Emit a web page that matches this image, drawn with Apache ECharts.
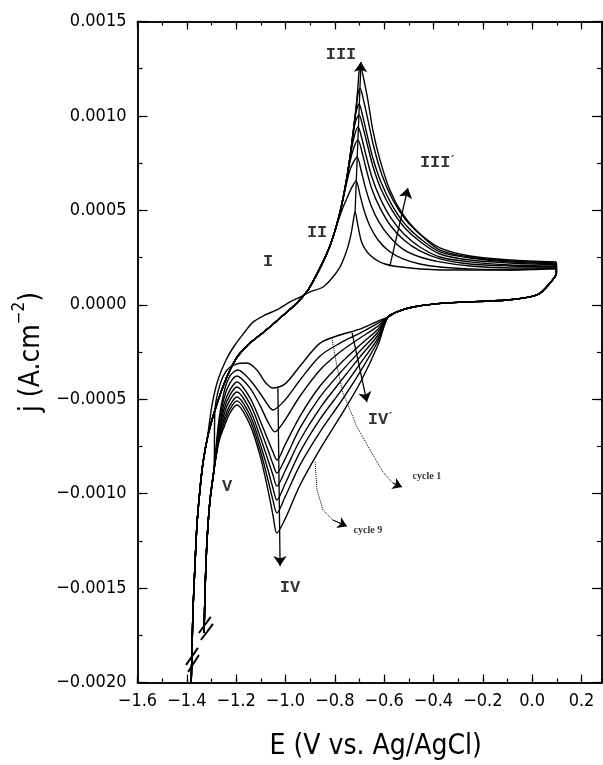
<!DOCTYPE html>
<html>
<head>
<meta charset="utf-8">
<script src="https://cdn.jsdelivr.net/npm/echarts@6/dist/echarts.min.js"></script>
<style>
  html, body { margin: 0; padding: 0; background: #fff; }
  #chart { width: 603px; height: 765px; }
</style>
</head>
<body>
<div id="chart"></div>
<script>
// E in V vs Ag/AgCl, j in A/cm2 ; 9 successive cycles
const xMin = -1.6, xMax = 0.283;
const yMin = -0.002, yMax = 0.0015;

// reversal at the positive end + start of the cathodic scan (same for every cycle)
const turn = [[0.098, 1.68e-4], [0.072, 1.15e-4], [0.020, 0.52e-4], [-0.102, 0.25e-4],
  [-0.345, 0.10e-4], [-0.483, -0.12e-4], [-0.548, -0.38e-4], [-0.585, -0.65e-4]];

// cathodic scan: shoulder IV', peak IV, hump before V
const cath1 = [[-0.625,-0.86e-4],[-0.698,-1.29e-4],[-0.779,-1.60e-4],[-0.860,-2.03e-4],[-0.941,-3.24e-4],[-1.002,-4.19e-4],[-1.051,-4.41e-4],[-1.083,-4.09e-4],[-1.116,-3.45e-4],[-1.156,-3.08e-4],[-1.197,-3.13e-4],[-1.237,-3.45e-4],[-1.266,-4.24e-4],[-1.286,-5.57e-4]];
const cath2 = [[-0.625,-0.97e-4],[-0.698,-1.50e-4],[-0.779,-2.03e-4],[-0.860,-2.71e-4],[-0.941,-3.98e-4],[-1.002,-5.04e-4],[-1.051,-5.57e-4],[-1.071,-5.31e-4],[-1.104,-4.67e-4],[-1.144,-3.98e-4],[-1.193,-3.45e-4],[-1.225,-3.77e-4],[-1.249,-4.62e-4],[-1.270,-6.10e-4]];
const cath3 = [[-0.625,-1.13e-4],[-0.698,-1.76e-4],[-0.779,-2.50e-4],[-0.860,-3.45e-4],[-0.941,-4.83e-4],[-1.002,-6.10e-4],[-1.043,-6.73e-4],[-1.071,-6.21e-4],[-1.104,-5.31e-4],[-1.144,-4.41e-4],[-1.197,-3.77e-4],[-1.225,-4.14e-4],[-1.249,-4.93e-4],[-1.270,-6.36e-4]];
const cath4 = [[-0.625,-1.29e-4],[-0.698,-2.13e-4],[-0.779,-3.13e-4],[-0.860,-4.30e-4],[-0.941,-5.89e-4],[-1.002,-7.42e-4],[-1.035,-8.22e-4],[-1.051,-7.79e-4],[-1.071,-7.16e-4],[-1.104,-6.10e-4],[-1.144,-4.93e-4],[-1.197,-4.09e-4],[-1.225,-4.51e-4],[-1.249,-5.25e-4],[-1.270,-6.63e-4]];
const cath5 = [[-0.625,-1.44e-4],[-0.698,-2.45e-4],[-0.779,-3.61e-4],[-0.860,-4.88e-4],[-0.941,-6.52e-4],[-1.002,-8.17e-4],[-1.035,-8.91e-4],[-1.051,-8.43e-4],[-1.071,-7.69e-4],[-1.104,-6.52e-4],[-1.144,-5.25e-4],[-1.197,-4.35e-4],[-1.225,-4.77e-4],[-1.249,-5.52e-4],[-1.270,-6.79e-4]];
const cath6 = [[-0.625,-1.60e-4],[-0.698,-2.76e-4],[-0.779,-4.09e-4],[-0.860,-5.47e-4],[-0.941,-7.16e-4],[-1.002,-8.80e-4],[-1.035,-9.60e-4],[-1.051,-9.01e-4],[-1.071,-8.22e-4],[-1.104,-6.95e-4],[-1.144,-5.57e-4],[-1.197,-4.62e-4],[-1.225,-5.04e-4],[-1.249,-5.78e-4],[-1.270,-6.95e-4]];
const cath7 = [[-0.625,-1.76e-4],[-0.698,-3.13e-4],[-0.779,-4.62e-4],[-0.860,-6.05e-4],[-0.941,-7.79e-4],[-1.002,-9.49e-4],[-1.035,-10.34e-4],[-1.051,-9.70e-4],[-1.071,-8.75e-4],[-1.104,-7.32e-4],[-1.144,-5.84e-4],[-1.197,-4.88e-4],[-1.225,-5.31e-4],[-1.249,-6.05e-4],[-1.270,-7.05e-4]];
const cath8 = [[-0.625,-1.92e-4],[-0.698,-3.56e-4],[-0.779,-5.20e-4],[-0.860,-6.73e-4],[-0.941,-8.48e-4],[-1.002,-10.18e-4],[-1.035,-11.03e-4],[-1.051,-10.34e-4],[-1.071,-9.28e-4],[-1.104,-7.64e-4],[-1.144,-6.10e-4],[-1.197,-5.09e-4],[-1.225,-5.52e-4],[-1.249,-6.26e-4],[-1.270,-7.16e-4]];
const cath9 = [[-0.625,-2.13e-4],[-0.698,-4.14e-4],[-0.779,-5.94e-4],[-0.860,-7.64e-4],[-0.941,-9.54e-4],[-1.002,-11.35e-4],[-1.035,-12.09e-4],[-1.051,-11.13e-4],[-1.071,-9.81e-4],[-1.104,-7.95e-4],[-1.144,-6.36e-4],[-1.197,-5.31e-4],[-1.225,-5.73e-4],[-1.249,-6.47e-4],[-1.270,-7.26e-4]];

// steep fall towards -1.4 V (curve is broken below this)
const descend = [[-1.290,-8.75e-4],[-1.306,-10.34e-4],[-1.318,-12.45e-4],[-1.326,-15.10e-4],[-1.330,-17.38e-4]];

// anodic scan back from -1.4 V
const riseLow = [[-1.383,-20.40e-4],[-1.379,-18.28e-4],[-1.375,-16.16e-4],[-1.367,-13.78e-4],[-1.359,-11.66e-4],[-1.347,-9.81e-4],[-1.334,-8.32e-4]];
const riseBundle = [[-1.314,-6.89e-4],[-1.286,-5.57e-4],[-1.254,-4.35e-4],[-1.225,-3.45e-4],[-1.193,-2.71e-4],[-1.144,-2.03e-4],[-1.083,-1.39e-4],[-1.022,-0.70e-4],[-0.954,0.10e-4],[-0.909,0.78e-4],[-0.877,1.52e-4],[-0.848,2.27e-4],[-0.820,3.11e-4]];
// cycle 1 rises on its own (shoulder I)
const rise1 = [[-1.318,-7.16e-4],[-1.298,-5.31e-4],[-1.274,-3.98e-4],[-1.241,-2.92e-4],[-1.205,-2.13e-4],[-1.165,-1.44e-4],[-1.132,-0.92e-4],[-1.083,-0.54e-4],[-1.035,-0.27e-4],[-0.982,0.15e-4],[-0.941,0.41e-4],[-0.901,0.68e-4],[-0.848,0.94e-4],[-0.808,1.47e-4],[-0.779,2.00e-4],[-0.751,2.90e-4],[-0.735,3.70e-4],[-0.726,4.38e-4],[-0.718,4.91e-4]];

// peak III and decay to the plateau
const anod1 = [[-0.706,4.17e-4],[-0.690,3.27e-4],[-0.658,2.64e-4],[-0.597,2.16e-4],[-0.496,1.95e-4],[-0.333,1.84e-4],[-0.131,1.84e-4],[0.098,1.95e-4]];
const anod2 = [[-0.796,4.07e-4],[-0.771,5.02e-4],[-0.747,5.76e-4],[-0.730,6.24e-4],[-0.714,6.56e-4],[-0.698,5.81e-4],[-0.682,5.02e-4],[-0.658,4.17e-4],[-0.625,3.43e-4],[-0.581,2.85e-4],[-0.524,2.43e-4],[-0.455,2.16e-4],[-0.374,2.00e-4],[-0.252,1.90e-4],[-0.090,1.84e-4],[0.098,1.90e-4]];
const anod3 = [[-0.796,4.07e-4],[-0.775,5.13e-4],[-0.755,6.29e-4],[-0.739,7.14e-4],[-0.722,7.61e-4],[-0.710,7.83e-4],[-0.694,7.14e-4],[-0.678,6.29e-4],[-0.654,5.29e-4],[-0.621,4.38e-4],[-0.577,3.59e-4],[-0.524,2.95e-4],[-0.455,2.53e-4],[-0.374,2.27e-4],[-0.252,2.05e-4],[-0.090,1.95e-4],[0.098,1.95e-4]];
const anod4 = [[-0.796,4.07e-4],[-0.775,5.13e-4],[-0.755,6.40e-4],[-0.739,7.56e-4],[-0.722,8.36e-4],[-0.706,8.72e-4],[-0.690,8.09e-4],[-0.674,7.24e-4],[-0.650,6.13e-4],[-0.617,5.13e-4],[-0.573,4.17e-4],[-0.520,3.43e-4],[-0.455,2.85e-4],[-0.374,2.43e-4],[-0.252,2.16e-4],[-0.090,2.05e-4],[0.098,2.00e-4]];
const anod5 = [[-0.796,4.07e-4],[-0.775,5.13e-4],[-0.755,6.45e-4],[-0.739,7.77e-4],[-0.722,8.88e-4],[-0.706,9.41e-4],[-0.690,8.78e-4],[-0.674,7.93e-4],[-0.650,6.77e-4],[-0.617,5.66e-4],[-0.573,4.60e-4],[-0.520,3.75e-4],[-0.455,3.06e-4],[-0.374,2.53e-4],[-0.252,2.27e-4],[-0.090,2.11e-4],[0.098,2.05e-4]];
const anod6 = [[-0.796,4.07e-4],[-0.775,5.13e-4],[-0.755,6.45e-4],[-0.739,7.77e-4],[-0.726,9.04e-4],[-0.714,9.79e-4],[-0.702,10.05e-4],[-0.686,9.41e-4],[-0.670,8.57e-4],[-0.646,7.35e-4],[-0.613,6.13e-4],[-0.569,5.02e-4],[-0.516,4.07e-4],[-0.447,3.27e-4],[-0.374,2.69e-4],[-0.252,2.37e-4],[-0.090,2.21e-4],[0.098,2.11e-4]];
const anod7 = [[-0.796,4.07e-4],[-0.775,5.13e-4],[-0.755,6.45e-4],[-0.739,7.77e-4],[-0.726,9.10e-4],[-0.714,10.21e-4],[-0.702,10.63e-4],[-0.686,9.94e-4],[-0.670,9.04e-4],[-0.646,7.77e-4],[-0.613,6.50e-4],[-0.569,5.29e-4],[-0.516,4.28e-4],[-0.447,3.43e-4],[-0.374,2.80e-4],[-0.252,2.48e-4],[-0.090,2.27e-4],[0.098,2.16e-4]];
const anod8 = [[-0.796,4.07e-4],[-0.775,5.13e-4],[-0.755,6.45e-4],[-0.739,7.77e-4],[-0.726,9.10e-4],[-0.714,10.42e-4],[-0.706,11.16e-4],[-0.698,11.48e-4],[-0.682,10.74e-4],[-0.666,9.79e-4],[-0.641,8.30e-4],[-0.609,6.87e-4],[-0.565,5.55e-4],[-0.512,4.49e-4],[-0.447,3.64e-4],[-0.374,2.90e-4],[-0.252,2.53e-4],[-0.090,2.32e-4],[0.098,2.21e-4]];
const anod9 = [[-0.796,4.07e-4],[-0.775,5.13e-4],[-0.755,6.45e-4],[-0.739,7.77e-4],[-0.726,9.10e-4],[-0.714,10.42e-4],[-0.706,11.63e-4],[-0.702,12.33e-4],[-0.698,12.75e-4],[-0.682,11.90e-4],[-0.666,10.84e-4],[-0.646,9.25e-4],[-0.617,7.67e-4],[-0.577,6.08e-4],[-0.528,4.86e-4],[-0.463,3.85e-4],[-0.374,3.01e-4],[-0.252,2.58e-4],[-0.090,2.37e-4],[0.098,2.27e-4]];

const cathodic = [cath1, cath2, cath3, cath4, cath5, cath6, cath7, cath8, cath9];
const anodic = [anod1, anod2, anod3, anod4, anod5, anod6, anod7, anod8, anod9];

// annotations
const arrowsSolid = [
  [[-0.718, 4.91e-4], [-0.694, 12.86e-4]],   // III
  [[-0.577, 2.05e-4], [-0.504, 6.18e-4]],    // III'
  [[-0.730, -1.49e-4], [-0.670, -5.15e-4]],  // IV'
  [[-1.031, -4.32e-4], [-1.022, -13.83e-4]]  // IV
];
const cycle1Path = [[-0.812,-1.76e-4],[-0.791,-3.29e-4],[-0.767,-4.67e-4],[-0.710,-6.47e-4],[-0.657,-7.69e-4],[-0.605,-8.85e-4],[-0.565,-9.44e-4],[-0.528,-9.65e-4]];
const cycle9Path = [[-0.880,-8.32e-4],[-0.872,-9.81e-4],[-0.848,-10.87e-4],[-0.808,-11.40e-4],[-0.751,-11.72e-4]];
const breakMarks = [
  [[-1.403,-19.07e-4],[-1.355,-18.17e-4]], [[-1.395,-19.44e-4],[-1.351,-18.54e-4]],
  [[-1.351,-17.38e-4],[-1.303,-16.53e-4]], [[-1.343,-17.75e-4],[-1.294,-16.90e-4]]
];
const romanLabels = [['I',-1.071,2.27e-4],['II',-0.872,3.80e-4],['III',-0.775,13.23e-4],['III{p|´}',-0.385,7.50e-4],
  ['IV{p|´}',-0.617,-6.10e-4],['IV',-0.982,-15.00e-4],['V',-1.237,-9.65e-4]];
const cycleLabels = [['cycle 1',-0.427,-9.07e-4],['cycle 9',-0.666,-11.93e-4]];

const font = "'Liberation Sans Narrow', 'DejaVu Sans Condensed', 'Liberation Sans', sans-serif";
const black = '#000';

const cycles = cathodic.map((cath, i) => {
  const end = anodic[i][anodic[i].length - 1];
  const up = i === 0 ? riseLow.concat(rise1) : riseLow.concat(riseBundle);
  return [end].concat(turn, cath, descend, [['-', '-']], up, anodic[i]);
});

function xAxis(pos, interval, len, main) {
  return {
    type: 'value', position: pos, min: xMin, max: xMax, interval,
    axisLine: { show: true, onZero: false, lineStyle: { color: black, width: 1.5 } },
    axisTick: { show: true, inside: true, length: len, lineStyle: { color: black, width: 1.2 } },
    axisLabel: main ? {
      show: true, margin: 10, color: black, fontSize: 18, fontFamily: font, showMaxLabel: false,
      formatter: v => v.toFixed(1).replace('-', '\u2212')
    } : { show: false },
    splitLine: { show: false },
    name: main ? 'E (V vs. Ag/AgCl)' : '',
    nameLocation: 'middle', nameGap: 50,
    nameTextStyle: { color: black, fontSize: 28, fontFamily: font, padding: [0, 0, 0, 12] }
  };
}

function yAxis(pos, interval, len, main) {
  return {
    type: 'value', position: pos, min: yMin, max: yMax, interval,
    axisLine: { show: true, onZero: false, lineStyle: { color: black, width: 1.5 } },
    axisTick: { show: true, inside: true, length: len, lineStyle: { color: black, width: 1.2 } },
    axisLabel: main ? {
      show: true, margin: 11, color: black, fontSize: 18, fontFamily: font,
      formatter: v => v.toFixed(4).replace('-', '\u2212')
    } : { show: false },
    splitLine: { show: false },
    name: main ? '{b|j (A.cm}{s|\u22122}{b|)}' : '',
    nameLocation: 'middle', nameGap: 77,
    nameTextStyle: {
      color: black, fontFamily: font,
      rich: {
        b: { fontSize: 28, lineHeight: 34, verticalAlign: 'bottom', fontFamily: font, color: black },
        s: { fontSize: 17, lineHeight: 19, verticalAlign: 'top', fontFamily: font, color: black }
      }
    }
  };
}

const chart = echarts.init(document.getElementById('chart'));

const series = cycles.map((d, i) => ({
  name: 'cycle ' + (i + 1),
  type: 'line',
  data: d,
  smooth: 0.3,
  symbol: 'none',
  clip: true,
  lineStyle: { color: black, width: 1.4 }
}));

series.push({
  type: 'lines', coordinateSystem: 'cartesian2d',
  symbol: ['none', 'arrow'], symbolSize: 10,
  lineStyle: { color: black, width: 1.3, opacity: 1 },
  data: arrowsSolid.map(c => ({ coords: c }))
});
series.push({
  type: 'lines', coordinateSystem: 'cartesian2d', polyline: true,
  lineStyle: { color: black, width: 1, type: 'dotted', opacity: 1 },
  data: [cycle1Path, cycle9Path].map(c => ({ coords: c }))
});
series.push({
  type: 'lines', coordinateSystem: 'cartesian2d',
  symbol: ['none', 'arrow'], symbolSize: 9,
  lineStyle: { color: black, width: 1, opacity: 1 },
  data: [cycle1Path, cycle9Path].map(c => ({ coords: c.slice(-2) }))
});
series.push({
  type: 'lines', coordinateSystem: 'cartesian2d',
  lineStyle: { color: black, width: 2, opacity: 1 },
  data: breakMarks.map(c => ({ coords: c }))
});
series.push({
  type: 'scatter', symbolSize: 1, itemStyle: { color: 'rgba(0,0,0,0)' },
  label: {
    show: true, position: 'inside', color: black,
    fontFamily: "'Liberation Mono', monospace", fontWeight: 'bold', fontSize: 17,
    formatter: p => p.value[2],
    rich: { p: { fontFamily: "'Liberation Serif', serif", fontSize: 12, verticalAlign: 'top', color: black } }
  },
  data: romanLabels.map(r => [r[1], r[2], r[0]])
});
series.push({
  type: 'scatter', symbolSize: 1, itemStyle: { color: 'rgba(0,0,0,0)' },
  label: {
    show: true, position: 'inside', color: black,
    fontFamily: "'Liberation Serif', serif", fontWeight: 'bold', fontSize: 10,
    formatter: p => p.value[2]
  },
  data: cycleLabels.map(r => [r[1], r[2], r[0]])
});

chart.setOption({
  animation: false,
  backgroundColor: '#fff',
  grid: { left: 137.5, top: 21.5, right: 1, bottom: 82.5, outerBoundsMode: 'none' },
  xAxis: [xAxis('bottom', 0.2, 8, true), xAxis('bottom', 0.1, 4, false), xAxis('top', 0.2, 8, false), xAxis('top', 0.1, 4, false)],
  yAxis: [yAxis('left', 0.0005, 10, true), yAxis('left', 0.00025, 5, false), yAxis('right', 0.0005, 10, false), yAxis('right', 0.00025, 5, false)],
  series
});
</script>
</body>
</html>
